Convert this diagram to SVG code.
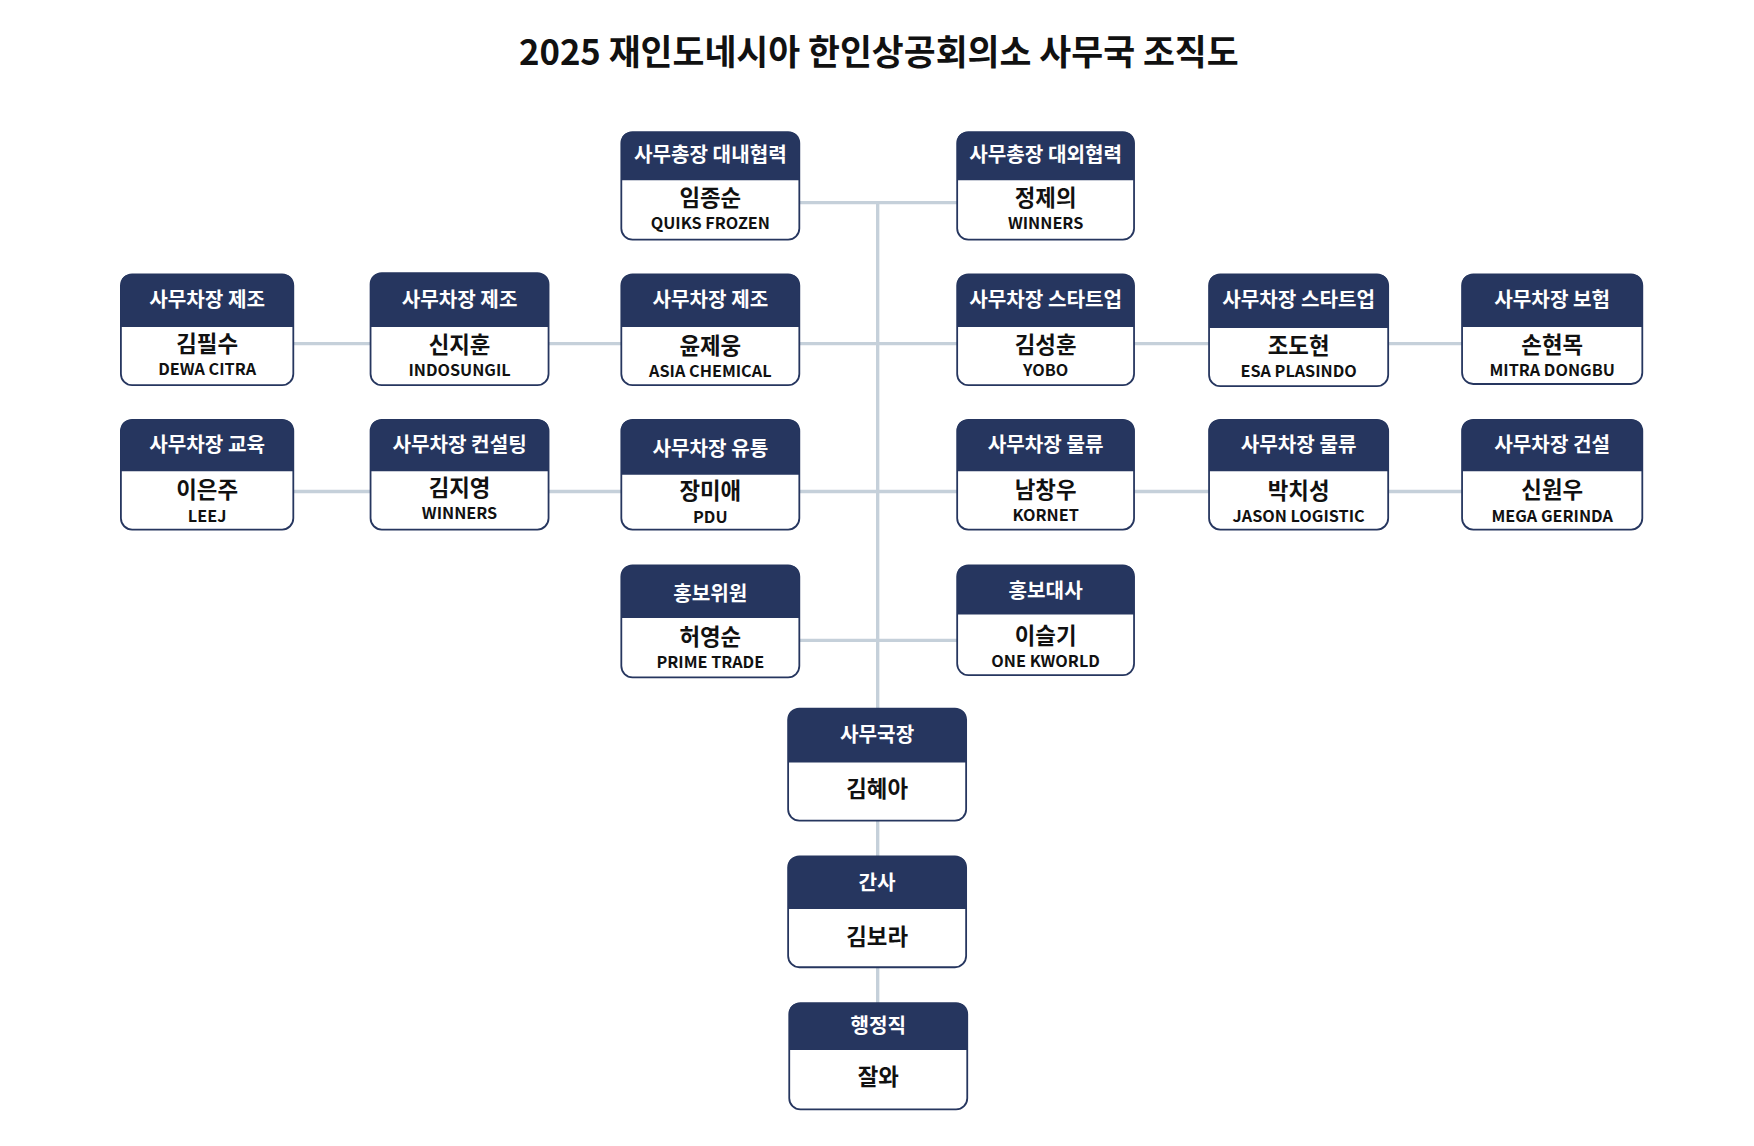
<svg xmlns="http://www.w3.org/2000/svg" width="1754" height="1146" viewBox="0 0 1754 1146">
<style>
text{font-family:"Noto Sans CJK KR","Noto Sans",sans-serif;font-weight:700;text-anchor:middle}
.b{fill:#fff;stroke:#26365f;stroke-width:1.6}
.h{fill:#26365f}
.t{fill:#fff;font-size:18px}
.n{fill:#111;font-size:20px}
.c{fill:#111;font-size:14.5px}
.ln{stroke:#c5d0da;stroke-width:3;fill:none}
</style>
<rect width="1754" height="1146" fill="#fff"/>
<g transform="scale(1.1195)">
<text x="785" y="58" style="font-size:31px;fill:#111">2025 재인도네시아 한인상공회의소 사무국 조직도</text>
<g id="connectors" class="ln">
<path d="M784 181V633M784 733V765M784 864V896"/>
<path d="M714 181H855M262 307H331M490 307H555M714 307H855M1013 307H1080M1240 307H1306"/>
<path d="M262 439H331M490 439H555M714 439H855M1013 439H1080M1240 439H1306M714 572H855"/>
</g>
<g id="n1"><rect class="b" x="555" y="118" width="159" height="96" rx="10"/><path class="h" d="M555 161V128Q555 118 565 118H704Q714 118 714 128V161Z"/><text class="t" x="634.5" y="145">사무총장 대내협력</text><text class="n" x="634.5" y="184">임종순</text><text class="c" x="634.5" y="205">QUIKS FROZEN</text></g>
<g id="n2"><rect class="b" x="855" y="118" width="158" height="96" rx="10"/><path class="h" d="M855 161V128Q855 118 865 118H1003Q1013 118 1013 128V161Z"/><text class="t" x="934" y="145">사무총장 대외협력</text><text class="n" x="934" y="184">정제의</text><text class="c" x="934" y="205">WINNERS</text></g>
<g id="n3"><rect class="b" x="108" y="245" width="154" height="99" rx="10"/><path class="h" d="M108 292V255Q108 245 118 245H252Q262 245 262 255V292Z"/><text class="t" x="185" y="274">사무차장 제조</text><text class="n" x="185" y="314">김필수</text><text class="c" x="185" y="335">DEWA CITRA</text></g>
<g id="n4"><rect class="b" x="331" y="244" width="159" height="100" rx="10"/><path class="h" d="M331 292V254Q331 244 341 244H480Q490 244 490 254V292Z"/><text class="t" x="410.5" y="274">사무차장 제조</text><text class="n" x="410.5" y="315">신지훈</text><text class="c" x="410.5" y="336">INDOSUNGIL</text></g>
<g id="n5"><rect class="b" x="555" y="245" width="159" height="99" rx="10"/><path class="h" d="M555 292V255Q555 245 565 245H704Q714 245 714 255V292Z"/><text class="t" x="634.5" y="274">사무차장 제조</text><text class="n" x="634.5" y="316">윤제웅</text><text class="c" x="634.5" y="337">ASIA CHEMICAL</text></g>
<g id="n6"><rect class="b" x="855" y="245" width="158" height="99" rx="10"/><path class="h" d="M855 292V255Q855 245 865 245H1003Q1013 245 1013 255V292Z"/><text class="t" x="934" y="274">사무차장 스타트업</text><text class="n" x="934" y="315">김성훈</text><text class="c" x="934" y="336">YOBO</text></g>
<g id="n7"><rect class="b" x="1080" y="245" width="160" height="100" rx="10"/><path class="h" d="M1080 293V255Q1080 245 1090 245H1230Q1240 245 1240 255V293Z"/><text class="t" x="1160" y="274">사무차장 스타트업</text><text class="n" x="1160" y="316">조도현</text><text class="c" x="1160" y="337">ESA PLASINDO</text></g>
<g id="n8"><rect class="b" x="1306" y="245" width="161" height="98" rx="10"/><path class="h" d="M1306 292V255Q1306 245 1316 245H1457Q1467 245 1467 255V292Z"/><text class="t" x="1386.5" y="274">사무차장 보험</text><text class="n" x="1386.5" y="315">손현목</text><text class="c" x="1386.5" y="336">MITRA DONGBU</text></g>
<g id="n9"><rect class="b" x="108" y="375" width="154" height="98" rx="10"/><path class="h" d="M108 421V385Q108 375 118 375H252Q262 375 262 385V421Z"/><text class="t" x="185" y="404">사무차장 교육</text><text class="n" x="185" y="445">이은주</text><text class="c" x="185" y="466">LEEJ</text></g>
<g id="n10"><rect class="b" x="331" y="375" width="159" height="98" rx="10"/><path class="h" d="M331 421V385Q331 375 341 375H480Q490 375 490 385V421Z"/><text class="t" x="410.5" y="404">사무차장 컨설팅</text><text class="n" x="410.5" y="443">김지영</text><text class="c" x="410.5" y="464">WINNERS</text></g>
<g id="n11"><rect class="b" x="555" y="375" width="159" height="98" rx="10"/><path class="h" d="M555 424V385Q555 375 565 375H704Q714 375 714 385V424Z"/><text class="t" x="634.5" y="407">사무차장 유통</text><text class="n" x="634.5" y="446">장미애</text><text class="c" x="634.5" y="467">PDU</text></g>
<g id="n12"><rect class="b" x="855" y="375" width="158" height="98" rx="10"/><path class="h" d="M855 421V385Q855 375 865 375H1003Q1013 375 1013 385V421Z"/><text class="t" x="934" y="404">사무차장 물류</text><text class="n" x="934" y="445">남창우</text><text class="c" x="934" y="465">KORNET</text></g>
<g id="n13"><rect class="b" x="1080" y="375" width="160" height="98" rx="10"/><path class="h" d="M1080 421V385Q1080 375 1090 375H1230Q1240 375 1240 385V421Z"/><text class="t" x="1160" y="404">사무차장 물류</text><text class="n" x="1160" y="446">박치성</text><text class="c" x="1160" y="466">JASON LOGISTIC</text></g>
<g id="n14"><rect class="b" x="1306" y="375" width="161" height="98" rx="10"/><path class="h" d="M1306 421V385Q1306 375 1316 375H1457Q1467 375 1467 385V421Z"/><text class="t" x="1386.5" y="404">사무차장 건설</text><text class="n" x="1386.5" y="445">신원우</text><text class="c" x="1386.5" y="466">MEGA GERINDA</text></g>
<g id="n15"><rect class="b" x="555" y="505" width="159" height="100" rx="10"/><path class="h" d="M555 552V515Q555 505 565 505H704Q714 505 714 515V552Z"/><text class="t" x="634.5" y="537">홍보위원</text><text class="n" x="634.5" y="576">허영순</text><text class="c" x="634.5" y="597">PRIME TRADE</text></g>
<g id="n16"><rect class="b" x="855" y="505" width="158" height="98" rx="10"/><path class="h" d="M855 549V515Q855 505 865 505H1003Q1013 505 1013 515V549Z"/><text class="t" x="934" y="534">홍보대사</text><text class="n" x="934" y="575">이슬기</text><text class="c" x="934" y="596">ONE KWORLD</text></g>
<g id="n17"><rect class="b" x="704" y="633" width="159" height="100" rx="10"/><path class="h" d="M704 681V643Q704 633 714 633H853Q863 633 863 643V681Z"/><text class="t" x="783.5" y="663">사무국장</text><text class="n" x="783.5" y="712">김혜아</text></g>
<g id="n18"><rect class="b" x="704" y="765" width="159" height="99" rx="10"/><path class="h" d="M704 812V775Q704 765 714 765H853Q863 765 863 775V812Z"/><text class="t" x="783.5" y="795">간사</text><text class="n" x="783.5" y="844">김보라</text></g>
<g id="n19"><rect class="b" x="705" y="896" width="159" height="95" rx="10"/><path class="h" d="M705 938V906Q705 896 715 896H854Q864 896 864 906V938Z"/><text class="t" x="784.5" y="923">행정직</text><text class="n" x="784.5" y="969">잘와</text></g>
</g>
</svg>
